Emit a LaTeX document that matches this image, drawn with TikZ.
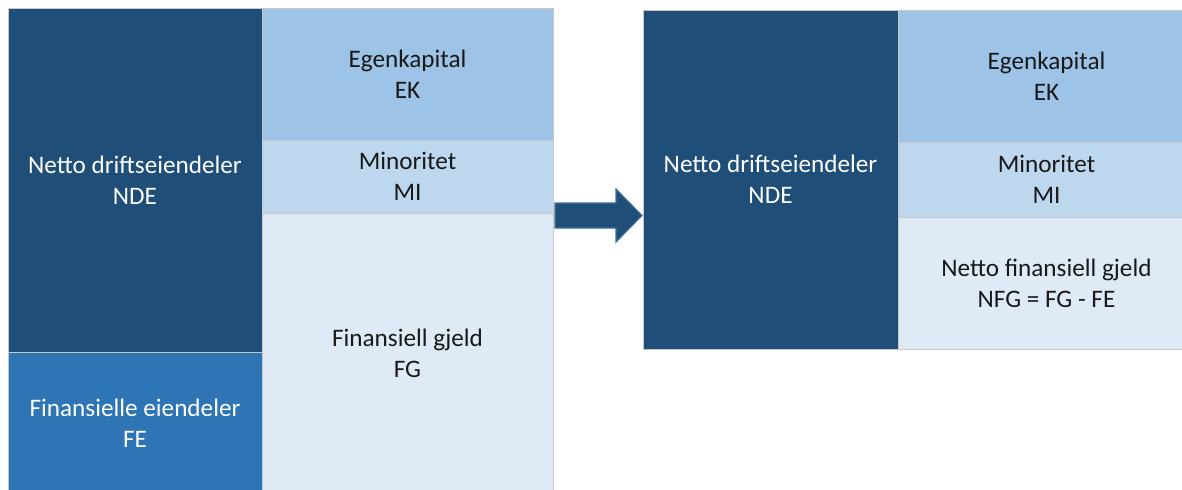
\documentclass[tikz,border=0pt]{standalone}
\usepackage{fontspec}
\setmainfont{Carlito}
\usepackage{tikz}
\usetikzlibrary{positioning}

\begin{document}
\begin{tikzpicture}[x=0.5pt,y=-0.5pt]
\definecolor{boxcolor1}{HTML}{1F4E79}
\definecolor{boxcolor2}{HTML}{2E75B6}
\definecolor{boxcolor3}{HTML}{9DC3E6}
\definecolor{boxcolor4}{HTML}{BDD7EE}
\definecolor{boxcolor5}{HTML}{DEEBF7}
\definecolor{edgecolor}{HTML}{C8C8C8}
\definecolor{arrowedge}{HTML}{41719C}
\tikzstyle{cell}=[rectangle, draw=edgecolor, line width=0.5pt, inner sep=0pt, align=center,
font=\fontsize{12.6}{15.5}\selectfont, text=black!90]
\tikzstyle{dark-cell}=[cell, text=white]
\tikzstyle{block-arrow}=[fill=boxcolor1, draw=arrowedge, line width=0.6pt, line join=miter]

\clip (0,0) rectangle (1182,489);
\fill[white] (0,0) rectangle (1182,489);

% before: financial assets and debt shown gross
\node[dark-cell, fill=boxcolor1, minimum width=127pt, minimum height=172pt] (NDE) at (135,180) {Netto driftseiendeler\\NDE};
\node[dark-cell, fill=boxcolor2, minimum width=127pt, minimum height=71pt] (FE) at (135,423) {Finansielle eiendeler\\FE};
\node[cell, fill=boxcolor3, minimum width=145.5pt, minimum height=66pt] (EK) at (407.5,74) {Egenkapital\\EK};
\node[cell, fill=boxcolor4, minimum width=145.5pt, minimum height=36.5pt] (MI) at (407.5,176.5) {Minoritet\\MI};
\node[cell, fill=boxcolor5, minimum width=145.5pt, minimum height=140.5pt] (FG) at (407.5,353.5) {Finansiell gjeld\\FG};

\draw[style=block-arrow] (555,203) -- (616,203) -- (616,189) -- (642,215.5) -- (616,242) -- (616,228) -- (555,228) -- cycle;

% after: net financial debt
\node[dark-cell, fill=boxcolor1, minimum width=127.5pt, minimum height=169.5pt] (NDE2) at (770.5,179.5) {Netto driftseiendeler\\NDE};
\node[cell, fill=boxcolor3, minimum width=148.5pt, minimum height=66pt] (EK2) at (1046.5,76) {Egenkapital\\EK};
\node[cell, fill=boxcolor4, minimum width=148.5pt, minimum height=37.5pt] (MI2) at (1046.5,179.5) {Minoritet\\MI};
\node[cell, fill=boxcolor5, minimum width=148.5pt, minimum height=66pt] (NFG) at (1046.5,283) {Netto finansiell gjeld\\NFG = FG - FE};

\end{tikzpicture}
\end{document}
